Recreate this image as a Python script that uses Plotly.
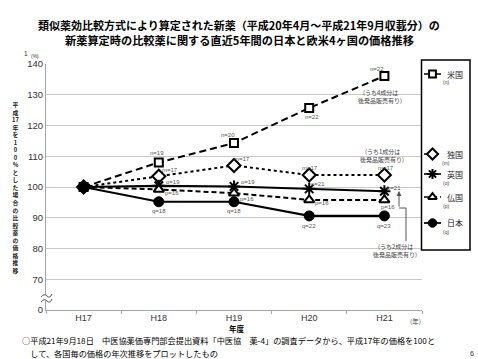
import plotly.graph_objects as go

# ---------------- data ----------------
categories = ["H17", "H18", "H19", "H20", "H21"]
us_values = [100, 108.0, 114.3, 125.7, 136.1]
de_values = [100, 103.5, 107.0, 103.9, 103.9]
uk_values = [100, 100.4, 100.2, 99.4, 98.6]
fr_values = [100, 99.2, 98.0, 95.8, 95.8]
jp_values = [100, 95.2, 95.2, 90.6, 90.6]

us_counts = ["", "n=19", "n=20", "n=22", "n=22"]
de_counts = ["", "m=17", "m=17", "m=17", "m=17"]
uk_counts = ["", "o=19", "o=19", "o=21", "o=21"]
fr_counts = ["", "p=16", "p=16", "p=16", "p=16"]
jp_counts = ["", "q=18", "q=18", "q=22", "q=23"]

series_names = ["米国", "独国", "英国", "仏国", "日本"]
series_keys = ["(n)", "(m)", "(o)", "(p)", "(q)"]

y_tick_vals = [60, 70, 80, 90, 100, 110, 120, 130, 140]
y_tick_text = ["0", "70", "80", "90", "100", "110", "120", "130", "140"]

W, H = 478, 359
JP = "Noto Sans CJK JP"
LAT = "Liberation Sans"


def px(x):
    return x / W


def py(y):
    return 1 - y / H


fig = go.Figure()

styles = [
    dict(vals=us_values, dash="7px,4px", width=2,
         marker=dict(symbol="square", size=8, color="white", line=dict(color="black", width=2))),
    dict(vals=de_values, dash="dot", width=2,
         marker=dict(symbol="diamond", size=10, color="white", line=dict(color="black", width=2))),
    dict(vals=uk_values, dash="solid", width=2,
         marker=dict(symbol="asterisk-open", size=10, color="black", line=dict(color="black", width=2))),
    dict(vals=fr_values, dash="5px,3px", width=2,
         marker=dict(symbol="triangle-up", size=9, color="white", line=dict(color="black", width=2))),
    dict(vals=jp_values, dash="solid", width=2.2,
         marker=dict(symbol="circle", size=10, color="black", line=dict(color="black", width=1))),
]

for name, st in zip(series_names, styles):
    fig.add_trace(go.Scatter(
        x=categories, y=st["vals"], name=name, mode="lines+markers",
        line=dict(color="black", width=st["width"], dash=st["dash"]),
        marker=st["marker"], cliponaxis=False, showlegend=False,
        xaxis="x", yaxis="y"))

# ---------------- count labels ----------------
offsets = {
    0: [(0, 0), (-2, 9), (-6, 8), (3, -9), (-7, 7)],
    1: [(0, 0), (11, 6), (8, 6), (1, 7), (2, 7)],
    2: [(0, 0), (14, 4), (14, 4), (9, 5), (10, 3)],
    3: [(0, 0), (13, -4), (13, -6), (13, -3), (4, -7)],
    4: [(0, 0), (0, -9), (0, -9), (0, -10), (0, -10)],
}
all_counts = [us_counts, de_counts, uk_counts, fr_counts, jp_counts]
annotations = []
for si, (counts, st) in enumerate(zip(all_counts, styles)):
    for i, (cat, v, lab) in enumerate(zip(categories, st["vals"], counts)):
        if not lab:
            continue
        dx, dy = offsets[si][i]
        annotations.append(dict(
            x=cat, y=v, xref="x", yref="y", text=lab, showarrow=False,
            xshift=dx, yshift=dy, borderpad=0,
            font=dict(family=LAT, size=6, color="#555555")))


def ptext(x, y, text, size, color="black", family=JP, xanchor="center", bold=False):
    annotations.append(dict(
        x=px(x), y=py(y), xref="paper", yref="paper",
        text=("<b>%s</b>" % text) if bold else text, showarrow=False,
        xanchor=xanchor, yanchor="middle", borderpad=0,
        font=dict(family=family, size=size, color=color)))


# title
ptext(239, 25, "類似薬効比較方式により算定された新薬（平成20年4月～平成21年9月収載分）の", 11, bold=True)
ptext(239, 40, "新薬算定時の比較薬に関する直近5年間の日本と欧米4ヶ国の価格推移", 11.2, bold=True)

# unit
ptext(26, 53, "1", 6.5, family=LAT, color="#333333")
ptext(35, 56, "(%)", 5, family=LAT, color="#333333")

# vertical y title (stacked characters, single text)
ytitle_chars = ["平", "成", "17", "年", "を", "1", "0", "0", "%", "と", "し", "た", "場",
                "合", "の", "比", "較", "薬", "の", "価", "格", "推", "移"]
ptext(15, 187, "<br>".join(ytitle_chars), 5.8, color="#222222", bold=True)

# notes
ptext(380, 92, "(うち4成分は", 6, color="#444444")
ptext(380, 100, "後発品販売有り)", 6, color="#444444")
ptext(382, 151, "(うち1成分は", 6, color="#444444")
ptext(382, 159, "後発品販売有り)", 6, color="#444444")
ptext(395, 246, "(うち2成分は", 6, color="#444444")
ptext(395, 254, "後発品販売有り)", 6, color="#444444")

# x axis extras
ptext(415, 321, "(年)", 6.5, color="#444444")
ptext(237, 328.5, "年度", 7.5, bold=True)

# footnote
ptext(21, 339.5, "○平成21年9月18日　中医協薬価専門部会提出資料「中医協　薬-4」の調査データから、平成17年の価格を100と",
      8.2, xanchor="left")
ptext(21, 353, "　して、各国毎の価格の年次推移をプロットしたもの", 8.2, xanchor="left")
ptext(472, 353, "6", 7, family=LAT, color="#333333")

# legend labels
leg_y = [74, 154, 174, 197, 223]
for name, key, ly in zip(series_names, series_keys, leg_y):
    ptext(455, ly, name, 8, color="#222222")
    ptext(446, ly + 8.5, key, 5, family=LAT, color="#444444")

# arrow for note 2
annotations.append(dict(
    x=px(399), y=py(191), xref="paper", yref="paper",
    axref="pixel", ayref="pixel", ax=0, ay=17, text="", showarrow=True,
    arrowhead=2, arrowsize=1, arrowwidth=1, arrowcolor="#555555"))

# ---------------- legend samples (secondary axes) ----------------
for st, ly in zip(styles, leg_y):
    fig.add_trace(go.Scatter(
        x=[424, 441], y=[ly, ly], mode="lines",
        line=dict(color="black", width=st["width"] * 0.8, dash=st["dash"]),
        xaxis="x2", yaxis="y2", showlegend=False, hoverinfo="skip", cliponaxis=False))
    m = dict(st["marker"])
    m["size"] = m["size"] * 0.85
    fig.add_trace(go.Scatter(
        x=[432.5], y=[ly], mode="markers", marker=m,
        xaxis="x2", yaxis="y2", showlegend=False, hoverinfo="skip", cliponaxis=False))


def ppath(points):
    s = ""
    for i, (x, y) in enumerate(points):
        s += ("M" if i == 0 else "L") + " %.5f,%.5f " % (px(x), py(y))
    return s


shapes = [
    # legend box
    dict(type="rect", xref="paper", yref="paper", x0=px(421.5), x1=px(470), y0=py(250),
         y1=py(60), line=dict(color="black", width=1.5), fillcolor="rgba(0,0,0,0)"),
    # connector for note 2
    dict(type="path", xref="paper", yref="paper",
         path=ppath([(399, 208), (406, 208), (406, 241)]),
         line=dict(color="#555555", width=1)),
    # axis break
    dict(type="rect", xref="paper", yref="paper", x0=px(44), x1=px(48), y0=py(301),
         y1=py(295), line=dict(width=0), fillcolor="white"),
    dict(type="path", xref="paper", yref="paper",
         path="M %.5f,%.5f Q %.5f,%.5f %.5f,%.5f T %.5f,%.5f" % (
             px(41), py(297), px(44), py(293), px(47), py(296), px(52), py(294)),
         line=dict(color="#555555", width=1)),
    dict(type="path", xref="paper", yref="paper",
         path="M %.5f,%.5f Q %.5f,%.5f %.5f,%.5f T %.5f,%.5f" % (
             px(41), py(302), px(44), py(298), px(47), py(301), px(52), py(299)),
         line=dict(color="#555555", width=1)),
]

fig.update_layout(
    width=W, height=H,
    margin=dict(l=0, r=0, t=0, b=0),
    paper_bgcolor="white", plot_bgcolor="rgba(0,0,0,0)",
    showlegend=False,
    xaxis=dict(domain=[px(46), px(422)], type="category", categoryorder="array",
               categoryarray=categories, range=[-0.5, 4.5], anchor="y",
               showgrid=False, showline=True, linecolor="#a6a6a6", linewidth=1,
               ticks="outside", tickson="boundaries", ticklen=3, tickcolor="#a6a6a6",
               ticklabelstandoff=-1,
               tickfont=dict(family=LAT, size=9, color="#333333"), automargin=False,
               zeroline=False, fixedrange=True),
    yaxis=dict(domain=[py(310), py(64)], range=[60, 140], anchor="x",
               tickvals=y_tick_vals, ticktext=y_tick_text,
               showgrid=True, gridcolor="#c8c8c8", gridwidth=1,
               showline=True, linecolor="#a6a6a6", linewidth=1,
               ticks="", tickfont=dict(family=LAT, size=9.5, color="#333333"),
               automargin=False, zeroline=False, fixedrange=True),
    xaxis2=dict(domain=[px(422), px(470)], range=[422, 470], anchor="y2",
                visible=False, fixedrange=True),
    yaxis2=dict(domain=[py(250), py(60)], range=[250, 60], anchor="x2",
                visible=False, fixedrange=True),
    annotations=annotations,
    shapes=shapes,
)

fig.write_html("out.html", config={"displayModeBar": False},
               post_script="document.body.style.margin='0';document.body.style.overflow='hidden';")
